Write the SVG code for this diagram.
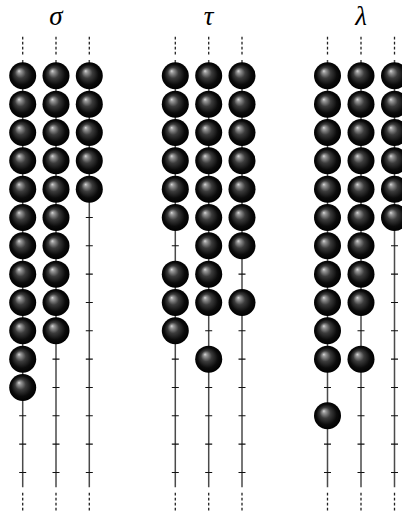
<svg xmlns="http://www.w3.org/2000/svg" xmlns:xlink="http://www.w3.org/1999/xlink" width="402" height="515" viewBox="0 0 402 515">
<style>
.lbl{font-family:"Liberation Serif","DejaVu Serif",serif;font-style:italic;font-size:27px;fill:#000;text-anchor:middle}
.rail{stroke:#4a4a4a;stroke-width:1.5;fill:none}
.tick{stroke:#111;stroke-width:1.1;fill:none}
.dash{stroke:#222;stroke-width:1.3;stroke-dasharray:2.8 2.2;fill:none}
</style>
<defs>
<radialGradient id="g" cx="50%" cy="50%" r="50%" fx="36%" fy="32%">
<stop offset="0" stop-color="#d8d8d8"/>
<stop offset="0.12" stop-color="#9a9a9a"/>
<stop offset="0.4" stop-color="#3c3c3c"/>
<stop offset="0.75" stop-color="#0c0c0c"/>
<stop offset="1" stop-color="#000"/>
</radialGradient>
<circle id="ball" cx="0" cy="0" r="13.5" fill="url(#g)"/>
<g id="railg">
<path class="rail" d="M0 60V487.3"/>
<path class="tick" d="M-3.5 75.8h7M-3.5 104.13h7M-3.5 132.47h7M-3.5 160.8h7M-3.5 189.13h7M-3.5 217.47h7M-3.5 245.8h7M-3.5 274.13h7M-3.5 302.47h7M-3.5 330.8h7M-3.5 359.13h7M-3.5 387.47h7M-3.5 415.8h7M-3.5 444.13h7M-3.5 472.47h7"/>
<path class="dash" d="M0 36.7V56"/>
<path class="dash" d="M0 492.7V512"/>
</g>
</defs>
<rect width="402" height="515" fill="#fff"/>

<g id="labels">
<text class="lbl" x="56" y="25">σ</text>
<text class="lbl" x="208.7" y="25">τ</text>
<text class="lbl" x="361" y="25">λ</text>
</g>

<g id="rails">
<use xlink:href="#railg" x="22.7"/>
<use xlink:href="#railg" x="56"/>
<use xlink:href="#railg" x="89.3"/>
<use xlink:href="#railg" x="175.3"/>
<use xlink:href="#railg" x="208.7"/>
<use xlink:href="#railg" x="242"/>
<use xlink:href="#railg" x="327.5"/>
<use xlink:href="#railg" x="361"/>
<use xlink:href="#railg" x="394.5"/>
</g>

<g id="sigma">
<g transform="translate(22.7,0)">
<use xlink:href="#ball" y="75.8"/><use xlink:href="#ball" y="104.13"/><use xlink:href="#ball" y="132.47"/><use xlink:href="#ball" y="160.8"/><use xlink:href="#ball" y="189.13"/><use xlink:href="#ball" y="217.47"/><use xlink:href="#ball" y="245.8"/><use xlink:href="#ball" y="274.13"/><use xlink:href="#ball" y="302.47"/><use xlink:href="#ball" y="330.8"/><use xlink:href="#ball" y="359.13"/><use xlink:href="#ball" y="387.47"/>
</g>
<g transform="translate(56,0)">
<use xlink:href="#ball" y="75.8"/><use xlink:href="#ball" y="104.13"/><use xlink:href="#ball" y="132.47"/><use xlink:href="#ball" y="160.8"/><use xlink:href="#ball" y="189.13"/><use xlink:href="#ball" y="217.47"/><use xlink:href="#ball" y="245.8"/><use xlink:href="#ball" y="274.13"/><use xlink:href="#ball" y="302.47"/><use xlink:href="#ball" y="330.8"/>
</g>
<g transform="translate(89.3,0)">
<use xlink:href="#ball" y="75.8"/><use xlink:href="#ball" y="104.13"/><use xlink:href="#ball" y="132.47"/><use xlink:href="#ball" y="160.8"/><use xlink:href="#ball" y="189.13"/>
</g>
</g>

<g id="tau">
<g transform="translate(175.3,0)">
<use xlink:href="#ball" y="75.8"/><use xlink:href="#ball" y="104.13"/><use xlink:href="#ball" y="132.47"/><use xlink:href="#ball" y="160.8"/><use xlink:href="#ball" y="189.13"/><use xlink:href="#ball" y="217.47"/><use xlink:href="#ball" y="274.13"/><use xlink:href="#ball" y="302.47"/><use xlink:href="#ball" y="330.8"/>
</g>
<g transform="translate(208.7,0)">
<use xlink:href="#ball" y="75.8"/><use xlink:href="#ball" y="104.13"/><use xlink:href="#ball" y="132.47"/><use xlink:href="#ball" y="160.8"/><use xlink:href="#ball" y="189.13"/><use xlink:href="#ball" y="217.47"/><use xlink:href="#ball" y="245.8"/><use xlink:href="#ball" y="274.13"/><use xlink:href="#ball" y="302.47"/><use xlink:href="#ball" y="359.13"/>
</g>
<g transform="translate(242,0)">
<use xlink:href="#ball" y="75.8"/><use xlink:href="#ball" y="104.13"/><use xlink:href="#ball" y="132.47"/><use xlink:href="#ball" y="160.8"/><use xlink:href="#ball" y="189.13"/><use xlink:href="#ball" y="217.47"/><use xlink:href="#ball" y="245.8"/><use xlink:href="#ball" y="302.47"/>
</g>
</g>

<g id="lambda">
<g transform="translate(327.5,0)">
<use xlink:href="#ball" y="75.8"/><use xlink:href="#ball" y="104.13"/><use xlink:href="#ball" y="132.47"/><use xlink:href="#ball" y="160.8"/><use xlink:href="#ball" y="189.13"/><use xlink:href="#ball" y="217.47"/><use xlink:href="#ball" y="245.8"/><use xlink:href="#ball" y="274.13"/><use xlink:href="#ball" y="302.47"/><use xlink:href="#ball" y="330.8"/><use xlink:href="#ball" y="359.13"/><use xlink:href="#ball" y="415.8"/>
</g>
<g transform="translate(361,0)">
<use xlink:href="#ball" y="75.8"/><use xlink:href="#ball" y="104.13"/><use xlink:href="#ball" y="132.47"/><use xlink:href="#ball" y="160.8"/><use xlink:href="#ball" y="189.13"/><use xlink:href="#ball" y="217.47"/><use xlink:href="#ball" y="245.8"/><use xlink:href="#ball" y="274.13"/><use xlink:href="#ball" y="302.47"/><use xlink:href="#ball" y="359.13"/>
</g>
<g transform="translate(394.5,0)">
<use xlink:href="#ball" y="75.8"/><use xlink:href="#ball" y="104.13"/><use xlink:href="#ball" y="132.47"/><use xlink:href="#ball" y="160.8"/><use xlink:href="#ball" y="189.13"/><use xlink:href="#ball" y="217.47"/>
</g>
</g>
</svg>
